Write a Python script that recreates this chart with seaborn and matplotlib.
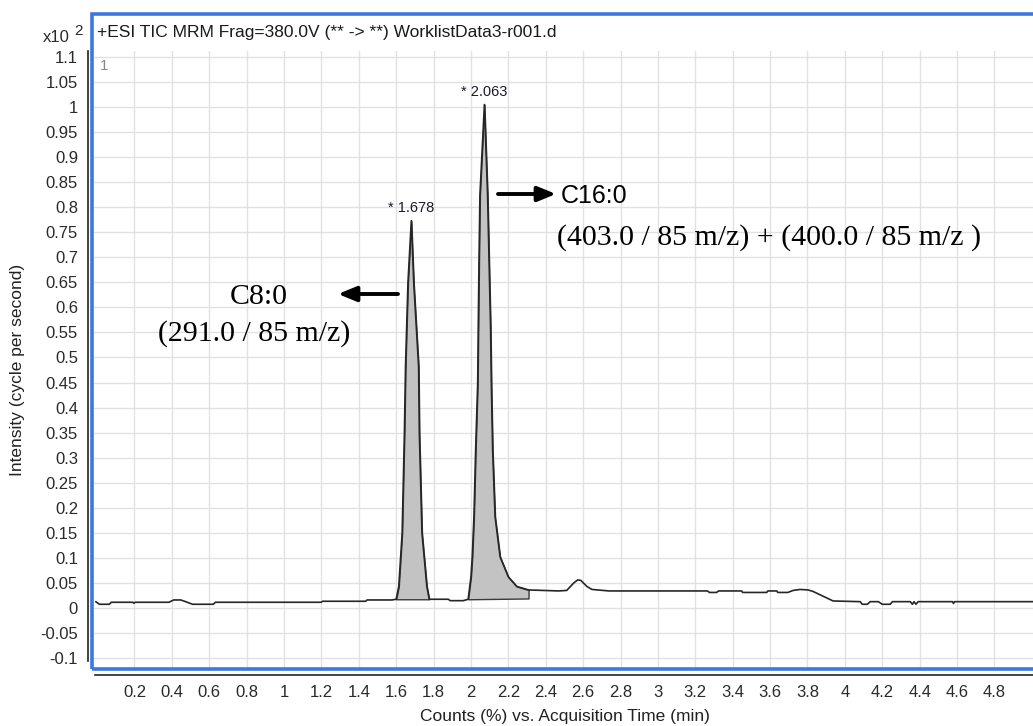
import numpy as np
import pandas as pd
import seaborn as sns
import matplotlib
matplotlib.use('Agg')
import matplotlib.pyplot as plt
from matplotlib.patches import Rectangle

# TIC trace: time (min), intensity (x10^2)
time = [-0.007, 0.013, 0.066, 0.076, 0.191, 0.197, 0.204, 0.384, 0.41, 0.448,
        0.474, 0.511, 0.622, 0.633, 1.199, 1.206, 1.437, 1.444, 1.577,
        1.600, 1.614, 1.632, 1.644, 1.650, 1.663, 1.681, 1.694, 1.720, 1.724,
        1.738, 1.764, 1.777,
        1.879, 1.889, 1.959, 1.985,
        2.0, 2.007, 2.016, 2.025, 2.036, 2.039, 2.043, 2.048, 2.072, 2.089,
        2.097, 2.105, 2.109, 2.116, 2.129, 2.156, 2.2, 2.245, 2.299, 2.308,
        2.389, 2.469, 2.512, 2.55, 2.571, 2.588, 2.62, 2.647, 2.738, 3.265,
        3.276, 3.314, 3.324, 3.448, 3.453, 3.582, 3.588, 3.636, 3.641, 3.695,
        3.723, 3.76, 3.803, 3.83, 3.937, 4.082, 4.093, 4.12, 4.136, 4.179,
        4.2, 4.243, 4.254, 4.35, 4.361, 4.37, 4.38, 4.392, 4.576, 4.581,
        4.587, 5.01]
intensity = [0.0126, 0.0074, 0.0074, 0.0114, 0.0114, 0.0095, 0.0114, 0.0114, 0.016, 0.016,
             0.0126, 0.0074, 0.0074, 0.0114, 0.0114, 0.0134, 0.0134, 0.016, 0.016,
             0.0174, 0.043, 0.150, 0.349, 0.482, 0.649, 0.773, 0.649, 0.482, 0.349,
             0.150, 0.043, 0.0174,
             0.0174, 0.0146, 0.0146, 0.0174,
             0.062, 0.102, 0.182, 0.315, 0.449, 0.559, 0.691, 0.824, 1.005, 0.824,
             0.691, 0.559, 0.449, 0.315, 0.182, 0.102, 0.062, 0.043, 0.037, 0.036,
             0.035, 0.034, 0.035, 0.05, 0.056, 0.055, 0.043, 0.037, 0.034, 0.034,
             0.031, 0.031, 0.034, 0.034, 0.031, 0.031, 0.034, 0.034, 0.031, 0.031,
             0.035, 0.037, 0.036, 0.033, 0.014, 0.0126, 0.0074, 0.0074, 0.0126, 0.0126,
             0.0074, 0.0074, 0.0126, 0.0126, 0.0074, 0.0126, 0.0074, 0.0126, 0.0126, 0.009,
             0.0126, 0.0126]

# integrated peaks (baseline start/end)
peak_start = [1.600, 1.985]
peak_end = [1.777, 2.308]
base_start = [0.0174, 0.0174]
base_end = [0.0174, 0.019]
peak_labels = ['* 1.678', '* 2.063']

x_ticks = np.round(np.arange(0.2, 4.81, 0.2), 1)
y_ticks = np.round(np.arange(-0.1, 1.101, 0.05), 2)

W, H = 1033, 726
def fx(px):
    return px / W
def fy(py):
    return 1 - py / H

sns.set_style('white')
plt.rcParams['font.family'] = ['Liberation Sans', 'DejaVu Sans']
plt.rcParams['axes.unicode_minus'] = False

fig = plt.figure(figsize=(10.33, 7.26), dpi=100)
ax = fig.add_axes([fx(92), fy(669), fx(1038) - fx(92), fy(14) - fy(669)])

df = pd.DataFrame({'time': time, 'intensity': intensity})
t = np.array(time)
v = np.array(intensity)

for s, e, b0, b1 in zip(peak_start, peak_end, base_start, base_end):
    m = (t >= s) & (t <= e)
    base = np.interp(t[m], [s, e], [b0, b1])
    ax.fill_between(t[m], base, v[m], facecolor='#c3c3c3', edgecolor='#3a3a3a',
                    linewidth=1.0, zorder=2)

sns.lineplot(data=df, x='time', y='intensity', ax=ax, color='#262626',
             linewidth=1.2, sort=False, zorder=3)

for s, e, lab in zip(peak_start, peak_end, peak_labels):
    m = (t >= s) & (t <= e)
    i = np.argmax(v[m])
    ax.annotate(lab, (t[m][i], v[m][i]), xytext=(0, 4), textcoords='offset points',
                ha='center', va='bottom', fontsize=10.5, color='#1a1a2a')

ax.set_xlim(-0.027, 5.033)
ax.set_ylim(-0.1218, 1.1856)
ax.set_xticks(x_ticks)
ax.set_xticklabels([f'{x:g}' for x in x_ticks])
ax.set_yticks(y_ticks)
ax.set_yticklabels([f'{y:g}' for y in y_ticks])
ax.set_xlabel('')
ax.set_ylabel('')

ax.set_axisbelow(True)
ax.grid(True, color='#e1e1e1', linewidth=1.0)
ax.axhspan(1.112, 1.19, color='white', zorder=0.8, lw=0)

for sp in ['top', 'right']:
    ax.spines[sp].set_visible(False)
ax.spines['left'].set_position(('outward', 3))
ax.spines['bottom'].set_position(('outward', 4.5))
ax.spines['left'].set_color('#222222')
ax.spines['bottom'].set_color('#222222')
ax.spines['left'].set_linewidth(1.2)
ax.spines['bottom'].set_linewidth(1.2)
ax.spines['left'].set_bounds(-0.105, 1.112)
ax.spines['bottom'].set_bounds(-0.011, 5.033)
ax.tick_params(axis='both', direction='out', length=4, width=1, color='#222222',
               labelsize=12, labelcolor='#2a2a2a', pad=3)

ax.add_patch(Rectangle((0, 0), 1, 1, transform=ax.transAxes, fill=False,
                       edgecolor='#3b78e0', linewidth=2.6, clip_on=False, zorder=6))

# header and axis titles
fig.text(fx(97), fy(33), '+ESI TIC MRM Frag=380.0V (** -> **) WorklistData3-r001.d',
         fontsize=12.5, color='#1a1a1a', va='center', ha='left')
fig.text(fx(70), fy(37), 'x10', fontsize=12, color='#2a2a2a', va='center', ha='right')
fig.text(fx(74), fy(31), '2', fontsize=11, color='#2a2a2a', va='center', ha='left')
fig.text(fx(100), fy(66), '1', fontsize=11, color='#888888', va='center', ha='left')
fig.text(fx(565), fy(717), 'Counts (%) vs. Acquisition Time (min)', fontsize=12.5,
         color='#222222', ha='center', va='center')
fig.text(fx(18), fy(370), 'Intensity (cycle per second)', fontsize=12.5, rotation=90,
         color='#222222', ha='center', va='center')

# compound annotations
arrow = dict(arrowstyle='-|>,head_length=1.1,head_width=0.45', color='black', lw=2.8,
             shrinkA=0, shrinkB=0)
fig.patches  # keep figure-level drawing
ax.annotate('', xy=(fx(338), fy(294)), xytext=(fx(398), fy(294)),
            xycoords='figure fraction', textcoords='figure fraction', arrowprops=arrow)
ax.annotate('', xy=(fx(556), fy(194)), xytext=(fx(498), fy(194)),
            xycoords='figure fraction', textcoords='figure fraction', arrowprops=arrow)
fig.text(fx(259), fy(297), 'C8:0', fontsize=21.5, family='Liberation Serif',
         ha='center', va='center', color='black')
fig.text(fx(254), fy(334), '(291.0 / 85 m/z)', fontsize=21.5, family='Liberation Serif',
         ha='center', va='center', color='black')
fig.text(fx(561), fy(196), 'C16:0', fontsize=18, ha='left', va='center', color='black')
fig.text(fx(557), fy(238), '(403.0 / 85 m/z) + (400.0 / 85 m/z )', fontsize=21.5,
         family='Liberation Serif', ha='left', va='center', color='black')

fig.savefig('out.png', dpi=100)
